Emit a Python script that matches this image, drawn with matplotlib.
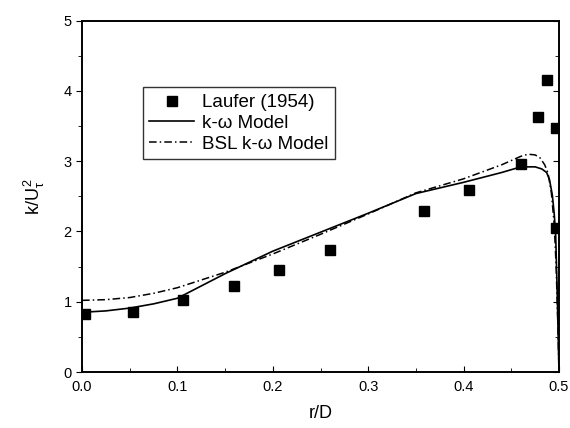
import matplotlib
matplotlib.use('Agg')
import matplotlib.pyplot as plt
from matplotlib.ticker import MultipleLocator

plt.rcParams['font.family'] = ['Liberation Sans', 'DejaVu Sans']
plt.rcParams['mathtext.fontset'] = 'custom'
plt.rcParams['mathtext.rm'] = 'Liberation Sans'
plt.rcParams['mathtext.it'] = 'Liberation Sans'

# dados experimentais (Laufer 1954)
r_exp = [0.003, 0.053, 0.106, 0.159, 0.206, 0.260, 0.358, 0.406, 0.460, 0.478, 0.487, 0.4965, 0.4965]
k_exp = [0.82, 0.85, 1.02, 1.22, 1.45, 1.74, 2.29, 2.59, 2.96, 3.63, 4.16, 3.48, 2.05]

# modelo k-omega
r_kw = [0.0, 0.025, 0.05, 0.075, 0.1, 0.15, 0.2, 0.25, 0.3, 0.35, 0.4, 0.44, 0.46,
        0.475, 0.482, 0.487, 0.49, 0.493, 0.495, 0.4965, 0.498, 0.499, 0.5]
k_kw = [0.85, 0.87, 0.91, 0.97, 1.05, 1.40, 1.72, 1.99, 2.26, 2.54, 2.70, 2.84, 2.92,
        2.92, 2.89, 2.84, 2.74, 2.52, 2.25, 1.95, 1.2, 0.6, 0.0]

# modelo BSL k-omega
r_bsl = [0.0, 0.025, 0.05, 0.075, 0.1, 0.15, 0.2, 0.25, 0.3, 0.35, 0.4, 0.44, 0.46,
         0.4675, 0.475, 0.48, 0.485, 0.4885, 0.492, 0.495, 0.497, 0.499, 0.5]
k_bsl = [1.02, 1.03, 1.06, 1.12, 1.20, 1.42, 1.68, 1.96, 2.25, 2.55, 2.75, 2.95, 3.07,
         3.10, 3.09, 3.05, 2.95, 2.83, 2.55, 2.1, 1.5, 0.6, 0.0]

fig = plt.figure(figsize=(5.7, 4.28), dpi=100)
ax = fig.add_axes([0.1439, 0.1308, 0.8368, 0.8208])

ax.plot(r_exp, k_exp, 's', color='black', markersize=6.5, label='Laufer (1954)')
ax.plot(r_kw, k_kw, '-', color='black', linewidth=1.2, label='k-ω Model')
ax.plot(r_bsl, k_bsl, color='black', linewidth=1.1, dashes=(5, 2, 1, 2), label='BSL k-ω Model')

ax.set_xlim(0, 0.5)
ax.set_ylim(0, 5)
ax.xaxis.set_major_locator(MultipleLocator(0.1))
ax.xaxis.set_minor_locator(MultipleLocator(0.05))
ax.yaxis.set_major_locator(MultipleLocator(1))
ax.yaxis.set_minor_locator(MultipleLocator(0.5))
ax.xaxis.set_major_formatter(matplotlib.ticker.FormatStrFormatter('%.1f'))

ax.tick_params(axis='x', which='major', direction='in', length=4, labelsize=10.5, pad=6)
ax.tick_params(axis='x', which='minor', direction='in', length=3)
ax.tick_params(axis='y', which='major', direction='out', length=4, labelsize=10.5)
ax.tick_params(axis='y', which='minor', direction='out', length=3)

# eixo da direita com ticks para dentro
ax2 = ax.twinx()
ax2.set_ylim(0, 5)
ax2.yaxis.set_major_locator(MultipleLocator(1))
ax2.yaxis.set_minor_locator(MultipleLocator(0.5))
ax2.tick_params(axis='y', which='major', direction='in', length=4, labelright=False)
ax2.tick_params(axis='y', which='minor', direction='in', length=3)

for a in (ax, ax2):
    for s in a.spines.values():
        s.set_linewidth(1.2)

ax.set_xlabel('r/D', fontsize=13, labelpad=8)
ax.set_ylabel(r'k/U$_{\tau}^{\,2}$', fontsize=13, labelpad=12)

leg = ax.legend(loc='upper left', bbox_to_anchor=(0.127, 0.81), fontsize=13.5,
                frameon=True, fancybox=False, edgecolor='black', handlelength=2.4,
                handletextpad=0.4, borderpad=0.35, labelspacing=0.2, borderaxespad=0)
leg.get_frame().set_linewidth(1.0)

fig.savefig('out.png', dpi=100)
